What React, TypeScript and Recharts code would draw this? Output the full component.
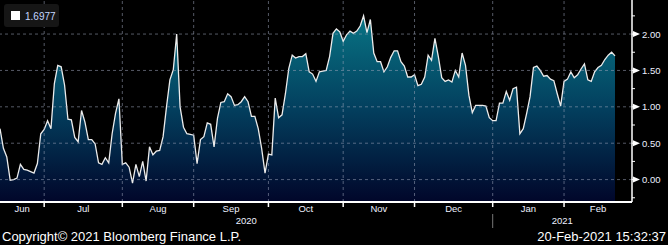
// Bloomberg-style single series area chart, Jun 2020 – Feb 2021 (business days)
import React from 'react';
import { AreaChart, Area, XAxis, YAxis, ReferenceLine } from 'recharts';

// values per month, one per business day
const jun = [0.70, 0.43, 0.31, -0.01, 0.0, 0.02, 0.21, 0.14, 0.13, 0.11, 0.09, 0.22, 0.63];
const jul = [0.69, 0.81, 0.70, 1.32, 1.57, 1.55, 1.30, 0.83, 0.82, 0.58, 0.52, 0.95, 0.79, 0.55, 0.55, 0.49, 0.23, 0.21, 0.30, 0.23, 0.63, 0.91, 1.11];
const aug = [0.21, 0.23, 0.17, -0.05, 0.21, 0.04, 0.25, -0.02, 0.45, 0.34, 0.39, 0.40, 0.59, 1.00, 1.37, 1.51, 2.00, 1.00, 0.72, 0.63, 0.62];
const sep = [0.61, 0.22, 0.55, 0.59, 0.78, 0.76, 0.45, 0.84, 1.06, 1.07, 1.18, 1.14, 1.02, 1.03, 1.07, 1.14, 1.07, 0.87, 0.87, 0.70, 0.43, 0.09];
const oct = [0.35, 0.34, 1.12, 0.85, 0.89, 1.18, 1.53, 1.71, 1.67, 1.69, 1.69, 1.73, 1.48, 1.45, 1.35, 1.48, 1.49, 1.50, 1.69, 2.01, 2.07, 2.03];
const nov = [1.90, 1.99, 2.04, 2.01, 2.04, 2.11, 2.25, 2.02, 2.20, 1.74, 1.62, 1.62, 1.48, 1.55, 1.68, 1.77, 1.77, 1.62, 1.56, 1.41, 1.41];
const dec = [1.44, 1.29, 1.31, 1.41, 1.71, 1.64, 1.94, 1.69, 1.40, 1.35, 1.37, 1.34, 1.50, 1.41, 1.74, 1.57, 1.16, 0.92, 1.02, 1.02, 1.02, 1.01, 0.85];
const jan = [0.81, 0.81, 1.05, 1.05, 1.21, 1.09, 1.25, 1.27, 0.63, 0.70, 0.91, 1.14, 1.54, 1.56, 1.50, 1.42, 1.43, 1.38, 1.36, 1.18, 1.01];
const feb = [1.35, 1.38, 1.48, 1.40, 1.44, 1.52, 1.59, 1.37, 1.35, 1.48, 1.54, 1.57, 1.65, 1.71, 1.75, 1.70];

const months = ['Jun', 'Jul', 'Aug', 'Sep', 'Oct', 'Nov', 'Dec', 'Jan', 'Feb'];
const monthValues = [jun, jul, aug, sep, oct, nov, dec, jan, feb];
const years = ['2020', '2021'];
const yMajor = [0, 0.5, 1, 1.5, 2];
const yMinor = [-0.25, 0.25, 0.75, 1.25, 1.75, 2.25];
const lastValue = '1.6977';

const X_END = 186;
const Y_MIN = -0.308;
const Y_MAX = 2.468;
const LABEL = '#eef0ff';
const FONT = '"Liberation Sans", Arial, sans-serif';

const data = monthValues.flat().map((v, i) => ({ i, v }));

const monthStarts: number[] = [];
let acc = 0;
monthValues.forEach((m) => {
  monthStarts.push(acc);
  acc += m.length;
});
const monthEnds = [...monthStarts.slice(1), X_END];
const monthMids = monthStarts.map((s, k) => (s + monthEnds[k]) / 2);
const boundaries = monthStarts.slice(1);
const yearStart = monthStarts[months.indexOf('Jan')];
const yearMids = [yearStart / 2, (yearStart + X_END) / 2];
const xTicks = [...boundaries, ...monthMids, ...yearMids].sort((a, b) => a - b);
const yTicks = [...yMinor, ...yMajor].sort((a, b) => a - b);

function XTick({ x, y, payload }: any) {
  const v = payload.value;
  const mi = monthMids.indexOf(v);
  if (mi >= 0) {
    return (
      <text x={x} y={y + 10} textAnchor="middle" fill={LABEL} fontSize={9.5} fontFamily={FONT}>
        {months[mi]}
      </text>
    );
  }
  const yi = yearMids.indexOf(v);
  if (yi >= 0) {
    return (
      <text x={x} y={y + 22} textAnchor="middle" fill={LABEL} fontSize={9.5} fontFamily={FONT}>
        {years[yi]}
      </text>
    );
  }
  return (
    <g>
      <line x1={x} x2={x} y1={y} y2={y + 5} stroke="#fff" strokeWidth={1.5} />
      {v === yearStart && <line x1={x} x2={x} y1={y + 12} y2={y + 26} stroke="#777" strokeWidth={1} />}
    </g>
  );
}

function YTick({ x, y, payload }: any) {
  const v = payload.value;
  if (yMajor.includes(v)) {
    return (
      <g>
        <line x1={x} x2={x + 2} y1={y} y2={y} stroke="#fff" strokeWidth={1} />
        <polygon points={`${x + 1},${y - 3} ${x + 1},${y + 3} ${x + 8},${y}`} fill="#fff" />
        <text x={x + 10} y={y} dominantBaseline="central" fill={LABEL} fontSize={9.5} fontFamily={FONT}>
          {v.toFixed(2)}
        </text>
      </g>
    );
  }
  return <line x1={x} x2={x + 3} y1={y} y2={y} stroke="#fff" strokeWidth={1} />;
}

export default function App() {
  return (
    <div style={{ position: 'fixed', left: 0, top: 0, width: 668, height: 245, background: '#000', overflow: 'hidden' }}>
      <AreaChart width={668} height={245} data={data} margin={{ top: 0, right: 0, bottom: 0, left: 0 }}>
        <defs>
          <linearGradient id="fillGrad" x1="0" y1="0" x2="0" y2="1">
            <stop offset="0%" stopColor="#087484" />
            <stop offset="50%" stopColor="#033f5e" />
            <stop offset="100%" stopColor="#01062a" />
          </linearGradient>
        </defs>
        <XAxis
          dataKey="i"
          type="number"
          domain={[0, X_END]}
          ticks={xTicks}
          interval={0}
          height={43}
          tickSize={0}
          tickMargin={0}
          tickLine={false}
          axisLine={{ stroke: '#fff', strokeWidth: 2 }}
          tick={<XTick />}
          allowDataOverflow
        />
        <YAxis
          orientation="right"
          type="number"
          domain={[Y_MIN, Y_MAX]}
          ticks={yTicks}
          interval={0}
          width={36}
          tickSize={0}
          tickMargin={0}
          tickLine={false}
          axisLine={{ stroke: '#fff', strokeWidth: 1.5 }}
          tick={<YTick />}
          allowDataOverflow
        />
        <Area
          type="linear"
          dataKey="v"
          stroke="#ececec"
          strokeWidth={1.3}
          fill="url(#fillGrad)"
          fillOpacity={1}
          baseValue="dataMin"
          dot={false}
          activeDot={false}
          isAnimationActive={false}
        />
        {yMajor.map((v) => (
          <ReferenceLine key={`h${v}`} y={v} stroke="#9aa3b8" strokeOpacity={0.55} strokeDasharray="3 3" />
        ))}
        {boundaries.map((v) => (
          <ReferenceLine key={`v${v}`} x={v} stroke="#9aa3b8" strokeOpacity={0.55} strokeDasharray="3 3" />
        ))}
      </AreaChart>

      <div
        style={{
          position: 'absolute',
          left: 4,
          top: 4,
          width: 55,
          height: 23,
          background: '#161616',
          borderRadius: 3,
        }}
      />
      <svg width={668} height={245} style={{ position: 'absolute', left: 0, top: 0, pointerEvents: 'none' }}>
        <rect x={11} y={11} width={9} height={9} fill="#fff" />
        <text x={25} y={19.5} fill="#c4d6ff" fontSize={10} fontFamily={FONT}>
          {lastValue}
        </text>
        <text x={2} y={241} fill="#fff" fontSize={13} fontFamily={FONT}>
          Copyright© 2021 Bloomberg Finance L.P.
        </text>
        <text x={666} y={241} textAnchor="end" fill="#fff" fontSize={13} fontFamily={FONT}>
          20-Feb-2021 15:32:37
        </text>
      </svg>
    </div>
  );
}
